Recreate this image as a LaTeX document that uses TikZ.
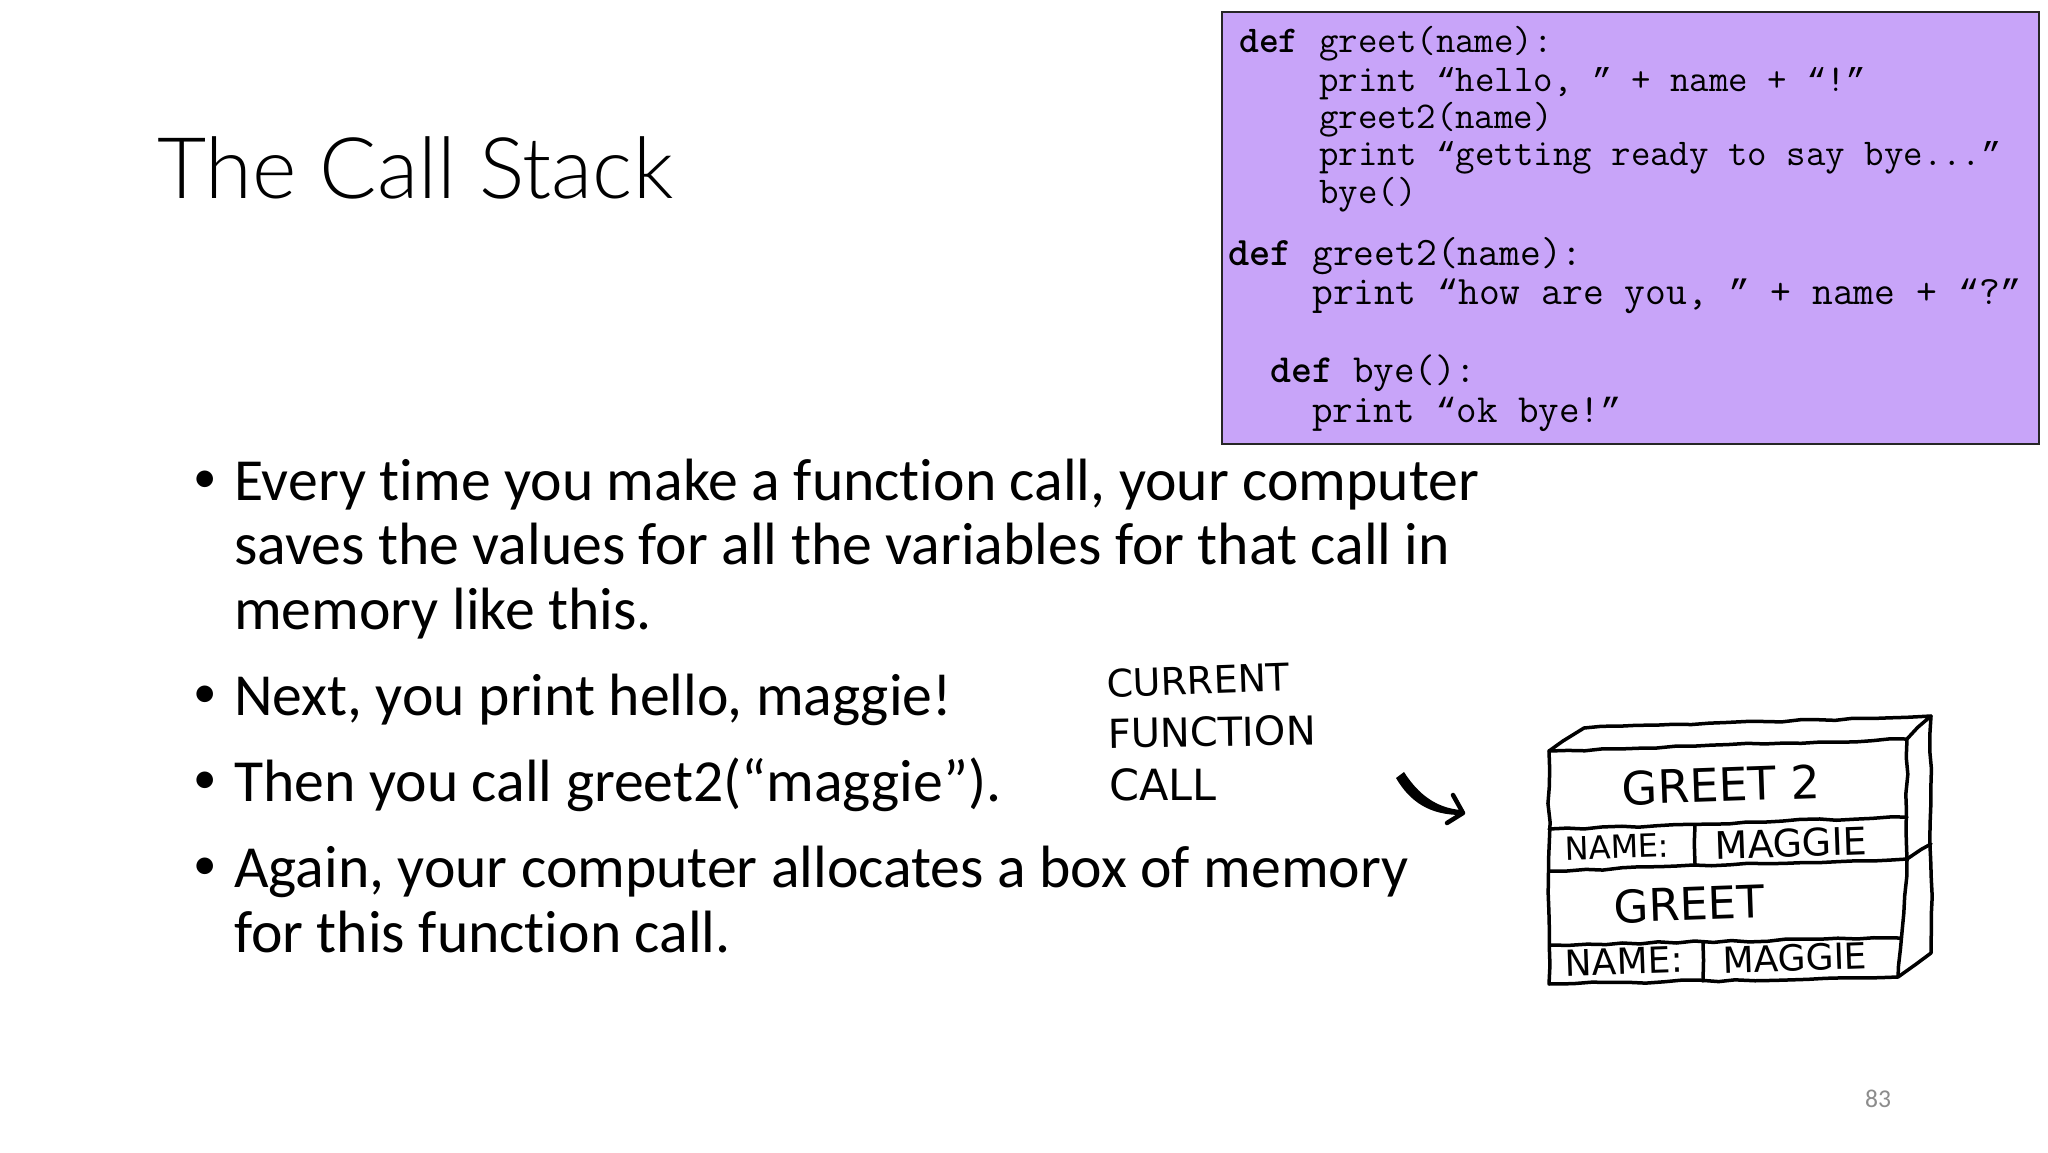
\documentclass[tikz,border=0pt]{standalone}
\usepackage{fontspec}
\usetikzlibrary{decorations.pathmorphing}
\setmainfont{Carlito}[RawFeature={-liga}]
\newfontfamily\titlefont{Lato Light}
\newfontfamily\handfont{DejaVu Sans}
\newfontfamily\quotefont{Liberation Mono}[Scale=0.875]
\definecolor{codebg}{HTML}{C8A4F9}
\definecolor{pagenum}{HTML}{8C8C8C}
\newcommand*{\bodytext}{\fontsize{59.7}{65}\selectfont}
\newcommand*{\codeA}{\fontsize{37.8}{40}\selectfont}
\newcommand*{\codeB}{\fontsize{40.4}{42}\selectfont}
\newcommand*{\codeC}{\fontsize{39.9}{42}\selectfont}
\newcommand*{\handsize}[1]{\fontsize{#1}{#1}\selectfont}
\newcommand*{\qo}{{\quotefont “}}
\newcommand*{\qc}{{\quotefont ”}}
\tikzset{
    body/.style   = {anchor=base west, inner sep=0pt, font=\bodytext},
    dot/.style    = {anchor=base, inner sep=0pt, font=\fontsize{47}{50}\selectfont},
    code/.style   = {anchor=base west, inner sep=0pt, text=black},
    hand/.style   = {inner sep=0pt},
    sketch/.style = {line width=3.5pt, line join=round, line cap=round,
                     decorate, decoration={random steps, segment length=18pt, amplitude=1.2pt}},
}
\begin{document}
\begin{tikzpicture}[x=1pt, y=-1pt]
    \pgfmathsetseed{83}
    \useasboundingbox [fill=white] (0,0) rectangle (2048,1152);
    \node [anchor=base west, inner sep=0pt, font=\titlefont\fontsize{85}{100}\selectfont] (title) at (157,198) {The Call Stack};
    % bullets
    \node [dot] (bulA) at (205,492) {•};
    \node [dot] (bulB) at (205,707) {•};
    \node [dot] (bulC) at (205,793) {•};
    \node [dot] (bulD) at (205,879) {•};
    \node [body] (lineA) at (234,500) {Every time you make a function call, your computer};
    \node [body] (lineB) at (234,564) {saves the values for all the variables for that call in};
    \node [body] (lineC) at (234,629) {memory like this.};
    \node [body] (lineD) at (234,715) {Next, you print hello, maggie!};
    \node [body] (lineE) at (234,801) {Then you call greet2(“maggie”).};
    \node [body] (lineF) at (234,887) {Again, your computer allocates a box of memory};
    \node [body] (lineG) at (234,952) {for this function call.};
    % code box
    \draw [fill=codebg, draw=black!85, line width=1.5pt] (1222,12) rectangle (2039,444);
    \node [code, font=\ttfamily\codeA\bfseries] (defA) at (1239,52) {def};
    \node [code, font=\ttfamily\codeA] (codeA) at (1319,52) {greet(name):};
    \node [code, font=\ttfamily\codeA] (codeB) at (1319,91) {print \qo hello, \qc{} + name + \qo !\qc};
    \node [code, font=\ttfamily\codeA] (codeC) at (1319,128) {greet2(name)};
    \node [code, font=\ttfamily\codeA] (codeD) at (1319,165) {print \qo getting ready to say bye...\qc};
    \node [code, font=\ttfamily\codeA] (codeE) at (1319,203) {bye()};
    \node [code, font=\ttfamily\codeB\bfseries] (defB) at (1228,265) {def};
    \node [code, font=\ttfamily\codeB] (codeF) at (1312,265) {greet2(name):};
    \node [code, font=\ttfamily\codeB] (codeG) at (1312,304) {print \qo how are you, \qc{} + name + \qo ?\qc};
    \node [code, font=\ttfamily\codeC\bfseries] (defC) at (1270,382) {def};
    \node [code, font=\ttfamily\codeC] (codeH) at (1353,382) {bye():};
    \node [code, font=\ttfamily\codeC] (codeI) at (1312,422) {print \qo ok bye!\qc};
    % hand written labels
    \node [hand, rotate=2, font=\handfont\handsize{38}] (curr) at (1198,680) {CURRENT};
    \node [hand, rotate=1, font=\handfont\handsize{40}] (func) at (1212,732) {FUNCTION};
    \node [hand, font=\handfont\handsize{43}] (call) at (1163,785) {CALL};
    \fill [line join=round] (1396,778) .. controls (1410,802) and (1430,815) .. (1461,815) -- (1461,810) .. controls (1436,808) and (1418,794) .. (1404,772) -- cycle;
    \draw [line width=4.5pt, line cap=round, line join=round] (1453,795) -- (1463,813) -- (1447,823);
    % stack of frames
    \draw [sketch] (1549,751) -- (1907,739) -- (1907,859) -- (1898,977) -- (1549,984) -- cycle;
    \draw [sketch] (1549,751) -- (1584,728) -- (1931,716) -- (1907,739);
    \draw [sketch] (1931,716) -- (1931,953) -- (1898,977);
    \draw [sketch] (1549,829) -- (1907,817);
    \draw [sketch] (1549,871) -- (1907,859) -- (1931,844);
    \draw [sketch] (1551,945) -- (1900,938);
    \draw [sketch] (1695,825) -- (1695,864);
    \draw [sketch] (1703,943) -- (1703,981);
    \node [hand, rotate=2, font=\handfont\handsize{46}] (frameA) at (1721,785) {GREET 2};
    \node [hand, rotate=2, font=\handfont\handsize{32}] (nameA) at (1617,847) {NAME:};
    \node [hand, rotate=2, font=\handfont\handsize{38}] (valA) at (1791,843) {MAGGIE};
    \node [hand, rotate=2, font=\handfont\handsize{45}] (frameB) at (1689,904) {GREET};
    \node [hand, rotate=2, font=\handfont\handsize{36}] (nameB) at (1624,961) {NAME:};
    \node [hand, rotate=2, font=\handfont\handsize{36}] (valB) at (1795,958) {MAGGIE};
    % page number
    \node [inner sep=0pt, text=pagenum, font=\fontsize{25.6}{28}\selectfont] (page) at (1878,1099) {83};
\end{tikzpicture}
\end{document}
